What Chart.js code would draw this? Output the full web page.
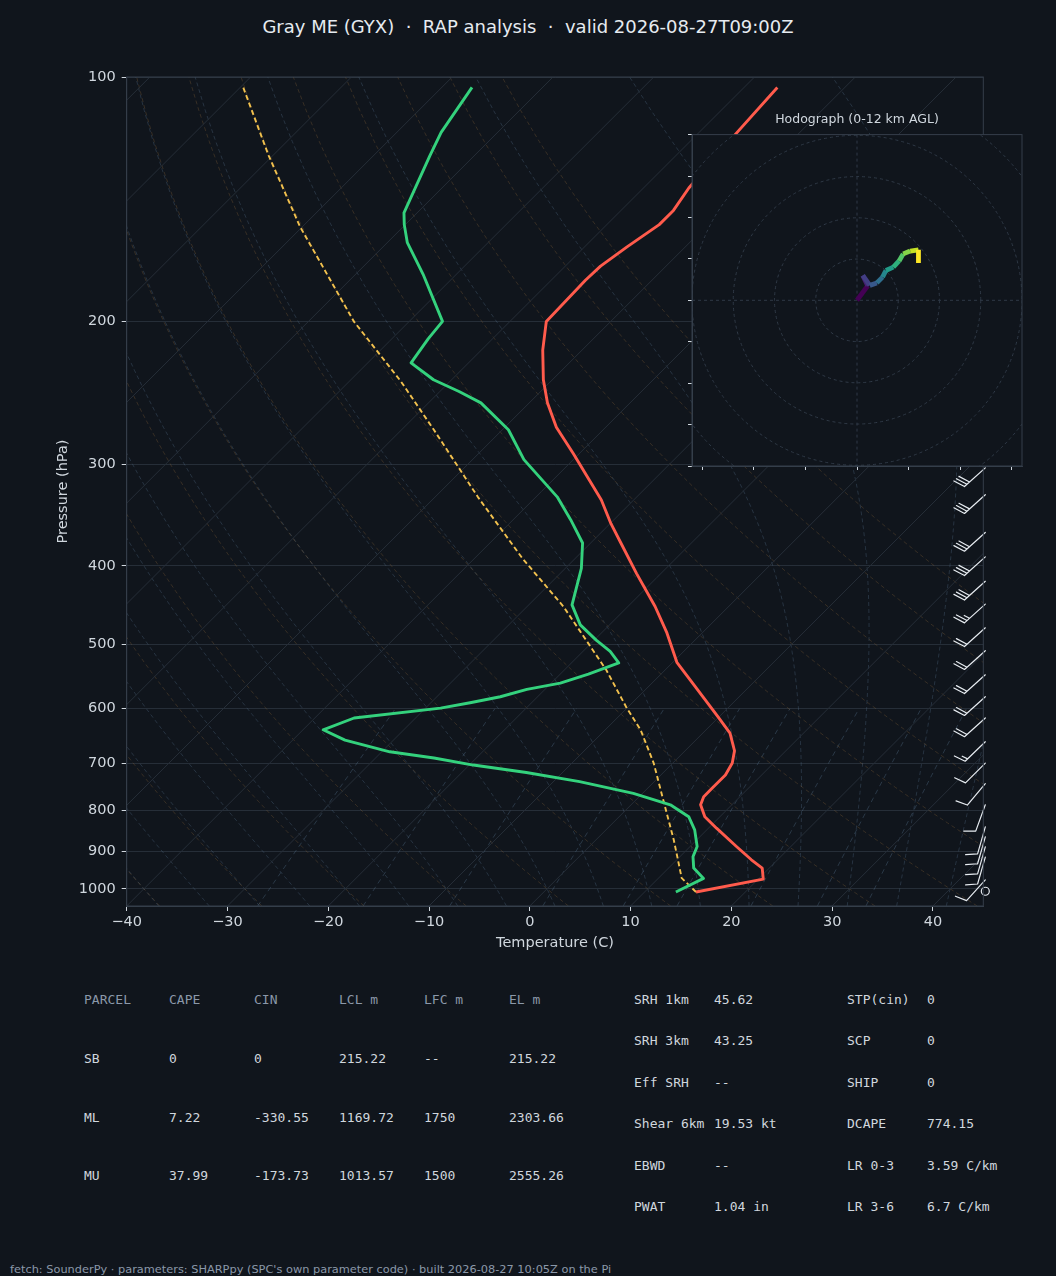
<!DOCTYPE html>
<html>
<head>
<meta charset="utf-8">
<script src="https://cdn.jsdelivr.net/npm/chart.js@4.4.1/dist/chart.umd.min.js"></script>
<style>
  html, body { margin: 0; padding: 0; background: #10151c; }
  body { position: relative; width: 1056px; height: 1276px; overflow: hidden; font-family: "DejaVu Sans", sans-serif; }
  #title { position: absolute; left: 0; top: 16px; width: 1056px; text-align: center; color: #e6ebf0; font-size: 18px; line-height: 22px; white-space: pre; }
  #skewt { position: absolute; left: 0; top: 0; }
  #hodo { position: absolute; left: 660px; top: 100px; }
  .cell { position: absolute; font-family: "DejaVu Sans Mono", monospace; font-size: 13px; line-height: 16px; white-space: pre; color: #d0d7de; }
  .head { color: #8b98a9; }
  #footer { position: absolute; left: 10px; top: 1262px; font-size: 11.35px; line-height: 14px; color: #8b98a9; white-space: pre; }
</style>
</head>
<body>
<div id="title"></div>
<canvas id="skewt" width="1056" height="960"></canvas>
<canvas id="hodo" width="380" height="390"></canvas>
<div id="table"></div>
<div id="footer"></div>
<script>
const TITLE = "Gray ME (GYX)  \u00b7  RAP analysis  \u00b7  valid 2026-08-27T09:00Z";
const FOOTER = "fetch: SounderPy \u00b7 parameters: SHARPpy (SPC's own parameter code) \u00b7 built 2026-08-27 10:05Z on the Pi";

// sounding (hPa, degC)
const tempP = [1009, 973, 943, 921, 887, 842, 815, 788, 770, 752, 724, 700, 676, 643, 614, 566, 526, 484, 449, 409, 375, 355, 332, 291, 270, 252, 236, 217, 200, 178, 171, 162, 152, 146, 137, 118, 103];
const tempC = [15.1, 20.5, 19.3, 17.4, 14.6, 10.8, 8.5, 6.9, 6.4, 6.4, 6.4, 5.9, 4.9, 2.7, -0.1, -5.1, -9.6, -13.5, -17.3, -22.4, -27.0, -29.9, -33.2, -40.6, -44.9, -48.2, -50.9, -53.9, -56.4, -56.6, -56.5, -55.8, -54.8, -54.8, -55.5, -56.2, -56.7];

const dewP = [1009, 971, 943, 913, 887, 846, 815, 788, 763, 738, 719, 704, 690, 678, 656, 637, 616, 599, 590, 580, 568, 558, 544, 527, 510, 494, 473, 447, 403, 375, 351, 329, 296, 272, 252, 244, 236, 225, 210, 200, 175, 160, 152, 147, 125, 117, 103];
const dewC = [13.1, 14.5, 12.5, 11.3, 10.7, 8.8, 6.9, 3.9, -0.9, -7.4, -13.6, -19.6, -24.2, -29.2, -34.8, -38.0, -36.1, -28.5, -26.1, -23.7, -21.8, -19.1, -17.2, -15.3, -17.3, -19.8, -22.9, -25.7, -28.4, -30.8, -34.3, -37.9, -44.9, -49.4, -54.8, -58.1, -61.8, -65.7, -66.4, -66.7, -73.3, -78.0, -80.1, -81.3, -84.4, -85.6, -87.0];

const parcelP = [1009, 970, 870, 777, 700, 637, 597, 538, 494, 449, 392, 330, 272, 237, 200, 153, 125, 103];
const parcelC = [15.1, 12.3, 7.7, 2.7, -1.9, -6.5, -10.2, -15.8, -20.8, -26.4, -35.2, -45.6, -56.8, -64.9, -75.5, -90.2, -100.4, -109.7];

// wind barbs along the right edge
const barbP = [303, 327, 364, 390, 418, 446, 477, 509, 545, 580, 616, 659, 700, 742, 788, 839, 863, 888, 914, 975, 1007];
const barbKt = [30, 30, 30, 30, 30, 25, 20, 20, 20, 20, 20, 15, 10, 10, 10, 10, 10, 10, 10, 10, 0];
const barbDir = [228, 228, 228, 228, 228, 228, 228, 228, 228, 228, 228, 226, 225, 220, 200, 196, 196, 196, 196, 222, 0];

// hodograph (u, v in kt)
const hodoU = [0, 2.6, 1.4, 3.1, 4.8, 6.2, 7.0, 8.8, 10.2, 11.2, 12.9, 14.9, 14.9];
const hodoV = [0, 3.5, 6.0, 3.6, 4.2, 5.6, 7.2, 8.0, 9.5, 11.2, 11.9, 12.2, 9.0];
const hodoRings = [10, 20, 30, 40, 50, 60];
const hodoXTicks = [-37.5, -25, -12.5, 0, 12.5, 25, 37.5];
const hodoYTicks = [-40, -30, -20, -10, 0, 10, 20, 30, 40];

const pTicks = [100, 200, 300, 400, 500, 600, 700, 800, 900, 1000];
const tTicks = [-40, -30, -20, -10, 0, 10, 20, 30, 40];

// parameter table
const parcelHead = ["PARCEL", "CAPE", "CIN", "LCL m", "LFC m", "EL m"];
const parcelNames = ["SB", "ML", "MU"];
const parcelVals = [
  ["0", "0", "215.22", "--", "215.22"],
  ["7.22", "-330.55", "1169.72", "1750", "2303.66"],
  ["37.99", "-173.73", "1013.57", "1500", "2555.26"],
];
const kinNames = ["SRH 1km", "SRH 3km", "Eff SRH", "Shear 6km", "EBWD", "PWAT"];
const kinVals = ["45.62", "43.25", "--", "19.53 kt", "--", "1.04 in"];
const compNames = ["STP(cin)", "SCP", "SHIP", "DCAPE", "LR 0-3", "LR 3-6"];
const compVals = ["0", "0", "0", "774.15", "3.59 C/km", "6.7 C/km"];

const BG = "#10151c";
const TXT = "#d0d7de";
const FRAME = "#353e4a";

document.getElementById("title").textContent = TITLE;
document.getElementById("footer").textContent = FOOTER;

// table
const tbl = document.getElementById("table");
const cell = (txt, x, y, cls) => {
  const s = document.createElement("span");
  s.className = "cell" + (cls ? " " + cls : "");
  s.textContent = txt;
  s.style.left = x + "px";
  s.style.top = (y - 8) + "px";
  tbl.appendChild(s);
};
parcelHead.forEach((h, i) => cell(h, 84 + i * 85, 1000, "head"));
parcelNames.forEach((n, r) => {
  const y = 1058.7 + r * 58.8;
  cell(n, 84, y);
  parcelVals[r].forEach((v, i) => cell(v, 169 + i * 85, y));
});
kinNames.forEach((n, r) => {
  const y = 1000 + r * 41.45;
  cell(n, 634, y);
  cell(kinVals[r], 714, y);
  cell(compNames[r], 847, y);
  cell(compVals[r], 927, y);
});

// skew-T geometry
const SKEW = 35;        // degC per ln(p): 45 degree isotherms at this size
const P_BOT = 1050, P_TOP = 100;
const skx = (t, p) => t + SKEW * Math.log(P_BOT / p);
const pts = (ps, ts) => ps.map((p, i) => ({ x: skx(ts[i], p), y: p }));

const bgSets = [];
const addBg = (data, color, dash, width) => bgSets.push({
  data, borderColor: color, borderDash: dash, borderWidth: width,
  showLine: true, pointRadius: 0, order: 10,
});

const levels = [];
for (let p = P_BOT; p >= P_TOP; p -= 10) levels.push(p);

// isotherms
for (let t = -130; t <= 40; t += 10) {
  addBg([{ x: skx(t, P_BOT), y: P_BOT }, { x: skx(t, P_TOP), y: P_TOP }], "#262e38", [], 1);
}
// dry adiabats
for (let t0 = -40; t0 <= 95; t0 += 10) {
  addBg(levels.map(p => ({ x: skx((t0 + 273.15) * Math.pow(p / 1000, 0.2857) - 273.15, p), y: p })),
    "rgba(150,110,60,0.33)", [4, 3], 0.9);
}
// moist adiabats
const lapse = (p, T) => {
  const es = 6.112 * Math.exp(17.67 * (T - 273.15) / (T - 29.65));
  const rs = 0.622 * es / (p - es);
  return (287.04 * T + 2.501e6 * rs) / (1005.7 + 2.501e6 * 2.501e6 * rs * 0.622 / (287.04 * T * T)) / p;
};
const rk = (p, T, dp) => {
  const k1 = lapse(p, T), k2 = lapse(p + dp / 2, T + k1 * dp / 2);
  const k3 = lapse(p + dp / 2, T + k2 * dp / 2), k4 = lapse(p + dp, T + k3 * dp);
  return T + dp * (k1 + 2 * k2 + 2 * k3 + k4) / 6;
};
for (let t0 = -40; t0 <= 45; t0 += 5) {
  let T = t0 + 273.15;
  for (let p = 1000; p < P_BOT; p += 10) T = rk(p, T, 10);
  const d = [];
  for (let i = 0; i < levels.length; i++) {
    d.push({ x: skx(T - 273.15, levels[i]), y: levels[i] });
    if (i < levels.length - 1) T = rk(levels[i], T, -10);
  }
  addBg(d, "rgba(95,125,155,0.33)", [4, 3], 0.9);
}
// mixing ratio lines
const mixW = [0.0004, 0.001, 0.002, 0.004, 0.007, 0.01, 0.016, 0.024, 0.032];
mixW.forEach(w => {
  const d = [];
  for (let p = P_BOT; p >= 600; p -= 25) {
    const l = Math.log(p * w / (0.622 + w) / 6.112);
    d.push({ x: skx(243.5 * l / (17.67 - l), p), y: p });
  }
  addBg(d, "rgba(95,125,155,0.38)", [5, 4], 0.9);
});

const minus = v => (v < 0 ? "\u2212" + Math.abs(v) : String(v));

const barbsPlugin = {
  id: "barbs",
  afterDatasetsDraw(chart) {
    const { ctx, chartArea, scales: { y } } = chart;
    ctx.save();
    ctx.strokeStyle = "#e6ebf0";
    ctx.lineWidth = 1.2;
    ctx.lineCap = "round";
    barbP.forEach((p, i) => {
      const x0 = chartArea.right + 2, y0 = y.getPixelForValue(p);
      const spd = barbKt[i];
      if (spd < 2.5) {
        ctx.beginPath();
        ctx.arc(x0, y0, 4, 0, 2 * Math.PI);
        ctx.stroke();
        return;
      }
      const a = barbDir[i] * Math.PI / 180;
      const ux = Math.sin(a), uy = -Math.cos(a);
      const r = 70 * Math.PI / 180;
      const bx = ux * Math.cos(r) - uy * Math.sin(r), by = ux * Math.sin(r) + uy * Math.cos(r);
      const L = 28;
      ctx.beginPath();
      ctx.moveTo(x0, y0);
      ctx.lineTo(x0 + ux * L, y0 + uy * L);
      let full = Math.floor(spd / 10), half = Math.round((spd % 10) / 5);
      let d = L;
      for (let k = 0; k < full + half; k++) {
        const len = k < full ? 12 : 6;
        const sx = x0 + ux * d, sy = y0 + uy * d;
        ctx.moveTo(sx, sy);
        ctx.lineTo(sx + bx * len, sy + by * len);
        d -= 3.4;
      }
      ctx.stroke();
    });
    ctx.restore();
  },
  afterDraw(chart) {
    const { ctx, chartArea: a } = chart;
    ctx.save();
    ctx.strokeStyle = FRAME;
    ctx.lineWidth = 1;
    ctx.strokeRect(a.left, a.top, a.right - a.left, a.bottom - a.top);
    ctx.restore();
  },
};

Chart.defaults.font.family = "DejaVu Sans";
Chart.defaults.color = TXT;

const tickFont = { size: 14.5 };

new Chart(document.getElementById("skewt"), {
  type: "scatter",
  data: {
    datasets: [
      { label: "Temperature", data: pts(tempP, tempC), borderColor: "#ff5b4c", borderWidth: 2.9, showLine: true, pointRadius: 0, borderJoinStyle: "round", order: 1 },
      { label: "Dewpoint", data: pts(dewP, dewC), borderColor: "#34d27d", borderWidth: 2.9, showLine: true, pointRadius: 0, borderJoinStyle: "round", order: 1 },
      { label: "Parcel", data: pts(parcelP, parcelC), borderColor: "#f2c14e", borderWidth: 1.9, borderDash: [5, 3], showLine: true, pointRadius: 0, order: 2 },
      ...bgSets,
    ],
  },
  options: {
    responsive: false,
    animation: false,
    layout: { padding: { top: 77, right: 72.7, left: 0, bottom: 0 } },
    plugins: { legend: { display: false }, tooltip: { enabled: false } },
    scales: {
      x: {
        type: "linear",
        min: -40,
        max: 45,
        afterFit: s => { s.height = 54; },
        afterBuildTicks: s => { s.ticks = tTicks.map(v => ({ value: v })); },
        ticks: { callback: v => minus(v), font: tickFont, color: TXT, padding: 3, maxRotation: 0 },
        grid: { drawOnChartArea: false, tickLength: 5, tickColor: TXT },
        border: { color: FRAME },
        title: { display: true, text: "Temperature (C)", font: tickFont, color: TXT, padding: { top: 0, bottom: 8.3 } },
      },
      y: {
        type: "logarithmic",
        reverse: true,
        min: P_TOP,
        max: P_BOT,
        afterFit: s => { s.width = 126.7; },
        afterBuildTicks: s => { s.ticks = pTicks.map(v => ({ value: v })); },
        ticks: { callback: v => String(v), font: tickFont, color: TXT, padding: 6 },
        grid: { color: "#262e38", tickLength: 5, tickColor: TXT },
        border: { color: FRAME },
        title: { display: true, text: "Pressure (hPa)", font: tickFont, color: TXT, padding: { top: 54.3, bottom: 0 } },
      },
    },
  },
  plugins: [barbsPlugin],
});

// hodograph
const VIR = ["#440154", "#482475", "#414487", "#355f8d", "#2a788e", "#21918c", "#22a884", "#44bf70", "#7ad151", "#bddf26", "#fde725"];
const viridis = t => {
  const f = Math.max(0, Math.min(1, t)) * (VIR.length - 1);
  const i = Math.min(Math.floor(f), VIR.length - 2), w = f - i;
  const c = h => [1, 3, 5].map(k => parseInt(h.substr(k, 2), 16));
  const a = c(VIR[i]), b = c(VIR[i + 1]);
  return "rgb(" + a.map((v, k) => Math.round(v + (b[k] - v) * w)).join(",") + ")";
};

const hodoPlugin = {
  id: "hodoGrid",
  beforeDraw(chart) {
    const { ctx, chartArea: a } = chart;
    ctx.save();
    ctx.fillStyle = BG;
    ctx.fillRect(a.left, a.top, a.right - a.left, a.bottom - a.top);
    ctx.restore();
  },
  beforeDatasetsDraw(chart) {
    const { ctx, chartArea: a, scales: { x, y } } = chart;
    const cx = x.getPixelForValue(0), cy = y.getPixelForValue(0);
    ctx.save();
    ctx.beginPath();
    ctx.rect(a.left, a.top, a.right - a.left, a.bottom - a.top);
    ctx.clip();
    ctx.strokeStyle = "#2f3946";
    ctx.lineWidth = 1;
    ctx.setLineDash([3, 3]);
    hodoRings.forEach(r => {
      ctx.beginPath();
      ctx.arc(cx, cy, x.getPixelForValue(r) - cx, 0, 2 * Math.PI);
      ctx.stroke();
    });
    ctx.beginPath();
    ctx.moveTo(a.left, cy); ctx.lineTo(a.right, cy);
    ctx.moveTo(cx, a.top); ctx.lineTo(cx, a.bottom);
    ctx.stroke();
    ctx.restore();
  },
  afterDraw(chart) {
    const { ctx, chartArea: a } = chart;
    ctx.save();
    ctx.strokeStyle = FRAME;
    ctx.lineWidth = 1;
    ctx.strokeRect(a.left, a.top, a.right - a.left, a.bottom - a.top);
    ctx.restore();
  },
};

new Chart(document.getElementById("hodo"), {
  type: "scatter",
  data: {
    datasets: [{
      data: hodoU.map((u, i) => ({ x: u, y: hodoV[i] })),
      showLine: true,
      pointRadius: 0,
      borderWidth: 4.8,
      borderCapStyle: "butt",
      segment: { borderColor: c => viridis(c.p0DataIndex / (hodoU.length - 2)) },
    }],
  },
  options: {
    responsive: false,
    animation: false,
    layout: { padding: { top: 0, right: 18, left: 0, bottom: 0 } },
    plugins: {
      legend: { display: false },
      tooltip: { enabled: false },
      title: { display: true, fullSize: false, text: "Hodograph (0-12 km AGL)", color: TXT, font: { size: 12.5, weight: "normal" }, padding: { top: 12, bottom: 7.6 } },
    },
    scales: {
      x: {
        min: -40, max: 40,
        afterFit: s => { s.height = 24; },
        afterBuildTicks: s => { s.ticks = hodoXTicks.map(v => ({ value: v })); },
        ticks: { display: false },
        grid: { drawOnChartArea: false, tickLength: 4, tickColor: TXT },
        border: { color: FRAME },
      },
      y: {
        min: -40, max: 40,
        afterFit: s => { s.width = 32; },
        afterBuildTicks: s => { s.ticks = hodoYTicks.map(v => ({ value: v })); },
        ticks: { display: false },
        grid: { drawOnChartArea: false, tickLength: 4, tickColor: TXT },
        border: { color: FRAME },
      },
    },
  },
  plugins: [hodoPlugin],
});
</script>
</body>
</html>
